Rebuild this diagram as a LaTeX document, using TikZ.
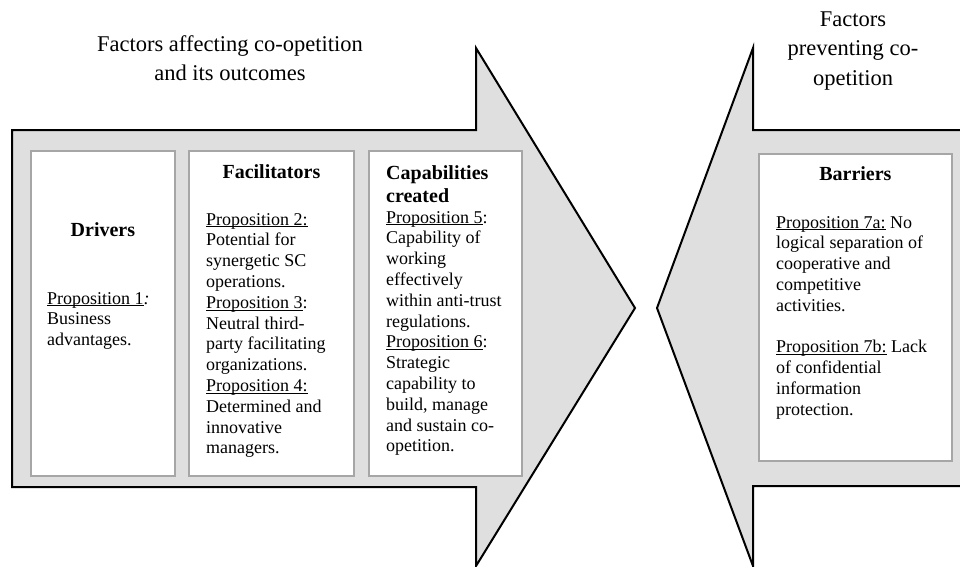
\documentclass[tikz,border=0pt]{standalone}
\usepackage{fontspec}
\setmainfont{Liberation Serif}
\usetikzlibrary{calc}

\newcommand{\propul}[1]{\underline{\raisebox{0pt}[\height][0pt]{#1}}}

\begin{document}
\begin{tikzpicture}[x=1pt, y=-1pt,
  arrowfill/.style={fill=gray!25},
  arrowline/.style={draw=black, line width=2pt, line join=miter},
  propbox/.style={draw=gray!70, fill=white, line width=1.8pt, anchor=north west, inner sep=0pt},
  boxhead/.style={inner sep=0pt, align=center, font=\fontsize{20}{23}\selectfont\bfseries},
  boxtext/.style={anchor=north west, inner sep=0pt, align=left, font=\fontsize{18}{20.8}\selectfont},
  titletext/.style={inner sep=0pt, align=center, font=\fontsize{22.5}{29.5}\selectfont}]
\useasboundingbox (0,0) rectangle (960,566);

% arrow of the factors affecting co-opetition
\filldraw[arrowfill, arrowline] (12,130) -- (476,130) -- (476,48) -- (635,308) -- (476,566) -- (476,487) -- (12,487) -- cycle;

% arrow of the factors preventing co-opetition
\fill[arrowfill] (960,130) -- (753,130) -- (753,48) -- (657,308) -- (753,566) -- (753,486) -- (960,486) -- cycle;
\draw[arrowline] (960,130) -- (753,130) -- (753,48) -- (657,308) -- (753,566) -- (753,486) -- (960,486);

\node[titletext] (ttlaffect) at (230,58) {Factors affecting co-opetition\\and its outcomes};
\node[titletext] (ttlprevent) at (853,51) {Factors\\preventing co-\\opetition};

\node[propbox, minimum width=144pt, minimum height=325pt] (drivers) at (30,150) {};
\node[propbox, minimum width=165pt, minimum height=325pt] (facil) at (188,150) {};
\node[propbox, minimum width=153pt, minimum height=325pt] (capab) at (368,150) {};
\node[propbox, minimum width=193pt, minimum height=307pt] (barriers) at (758,153) {};

\node[boxhead] (drivershead) at ($(drivers.north)+(0,80)$) {Drivers};
\node[boxhead] (facilhead) at ($(facil.north)+(0,22)$) {Facilitators};
\node[boxhead, anchor=north west, align=left] (capabhead) at ($(capab.north west)+(18,15)$) {Capabilities\\created};
\node[boxhead] (barriershead) at ($(barriers.north)+(0,21)$) {Barriers};

\node[boxtext] (driverstext) at ($(drivers.north west)+(17,142)$) {\propul{Proposition 1}\textit{:}\\Business\\advantages.};
\node[boxtext] (faciltext) at ($(facil.north west)+(18,63)$) {\propul{Proposition 2:}\\Potential for\\synergetic SC\\operations.\\\propul{Proposition 3}:\\Neutral third-\\party facilitating\\organizations.\\\propul{Proposition 4:}\\Determined and\\innovative\\managers.};
\node[boxtext] (capabtext) at ($(capab.north west)+(18,61)$) {\propul{Proposition 5}:\\Capability of\\working\\effectively\\within anti-trust\\regulations.\\\propul{Proposition 6}:\\Strategic\\capability to\\build, manage\\and sustain co-\\opetition.};
\node[boxtext] (barrierstext) at ($(barriers.north west)+(18,63)$) {\propul{Proposition 7a:} No\\logical separation of\\cooperative and\\competitive\\activities.\\[20.8pt]\propul{Proposition 7b:} Lack\\of confidential\\information\\protection.};

\end{tikzpicture}
\end{document}
